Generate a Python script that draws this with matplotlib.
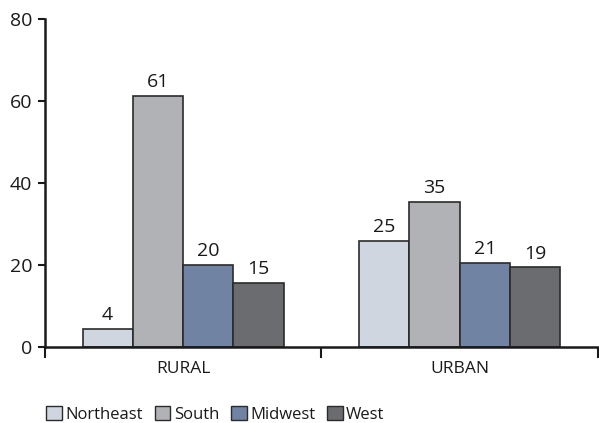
import matplotlib
matplotlib.use("Agg")
import matplotlib.pyplot as plt
import numpy as np

# --- Data ---
groups = ["RURAL", "URBAN"]
regions = ["Northeast", "South", "Midwest", "West"]
northeast = [4.3, 25.9]
south = [61.2, 35.3]
midwest = [20.0, 20.5]
west = [15.5, 19.4]
northeast_lbl = [4, 25]
south_lbl = [61, 35]
midwest_lbl = [20, 21]
west_lbl = [15, 19]

COLORS = ["#cfd6e0", "#b1b2b6", "#7183a3", "#6b6c70"]
EDGE = "#2b2b2b"
TXT = "#1a1a1a"

plt.rcParams["font.family"] = ["Open Sans", "DejaVu Sans"]

fig = plt.figure(figsize=(5.99, 4.23), dpi=100)
ax = fig.add_axes([0.075, 0.180, 0.923, 0.775])

series = [northeast, south, midwest, west]
labels = [northeast_lbl, south_lbl, midwest_lbl, west_lbl]
x = np.arange(len(groups)) + 0.5
w = 0.182
for i, (vals, lbls) in enumerate(zip(series, labels)):
    xs = x + (i - 1.5) * w
    ax.bar(xs, vals, width=w, color=COLORS[i], edgecolor=EDGE, linewidth=1.2,
           label=regions[i], zorder=2)
    for xi, v, l in zip(xs, vals, lbls):
        ax.annotate(str(l), (xi, v), xytext=(0, 3.5), textcoords="offset points",
                    ha="center", va="bottom", fontsize=14, color=TXT)

ax.set_xlim(0, 2)
ax.set_ylim(0, 80)
ax.set_yticks([0, 20, 40, 60, 80])
ax.set_yticklabels(["0", "20", "40", "60", "80"], fontsize=14, color=TXT)
ax.set_xticks([0, 1, 2])
ax.set_xticklabels([])
ax.set_xticks(x, minor=True)
ax.set_xticklabels(groups, minor=True, fontsize=12.5, color=TXT)
ax.tick_params(axis="x", which="minor", length=0, pad=10)
ax.tick_params(axis="x", which="major", length=8, width=1.5, direction="out", color=TXT)
ax.tick_params(axis="y", length=5, width=1.5, direction="out", pad=4, color=TXT)

for s in ["top", "right"]:
    ax.spines[s].set_visible(False)
for s in ["left", "bottom"]:
    ax.spines[s].set_linewidth(1.8)
    ax.spines[s].set_color(TXT)

leg = fig.legend(loc="center left", bbox_to_anchor=(0.066, 0.021), ncol=4, frameon=False,
                 fontsize=12, handlelength=0.95, handleheight=0.95, handletextpad=0.2,
                 columnspacing=0.7, borderaxespad=0)
for t in leg.get_texts():
    t.set_color(TXT)
for h in leg.legend_handles:
    h.set_linewidth(1.0)

fig.savefig("out.png", dpi=100)
